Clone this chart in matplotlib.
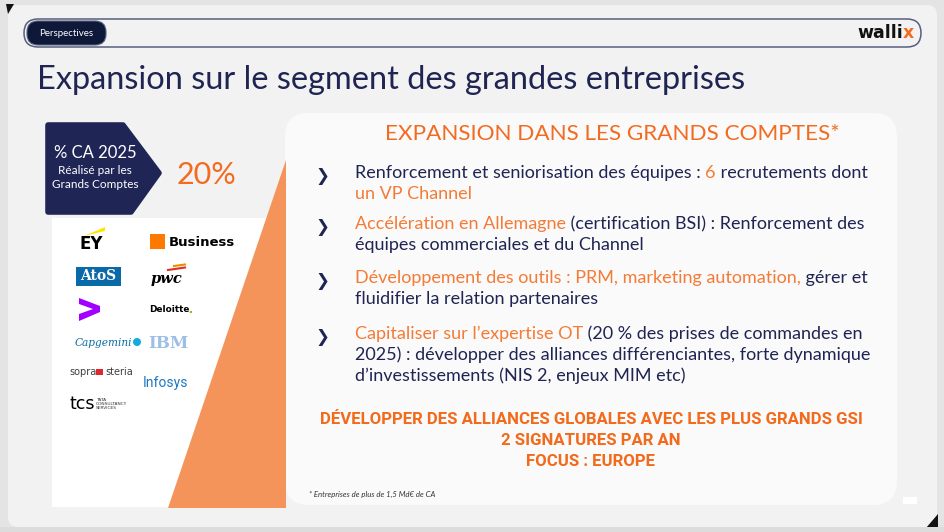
import matplotlib
matplotlib.use("Agg")
import matplotlib.pyplot as plt
from matplotlib.patches import FancyBboxPatch, Polygon, Rectangle, Circle

# slide content
SECTION_TAG = "Perspectives"
BRAND = [("walli", "#111111"), ("x", "#f26b21")]
TITLE = "Expansion sur le segment des grandes entreprises"
SHARE_LABEL = ["% CA 2025", "Réalisé par les", "Grands Comptes"]
SHARE_VALUE = "20%"
HEADING = "EXPANSION DANS LES GRANDS COMPTES*"
# (text, colour key) pieces per line, per bullet
BULLETS = [
    [[("Renforcement et seniorisation des équipes : ", "n"), ("6", "o"), (" recrutements dont", "n")],
     [("un VP Channel", "o")]],
    [[("Accélération en Allemagne", "o"), (" (certification BSI) : Renforcement des", "n")],
     [("équipes commerciales et du Channel", "n")]],
    [[("Développement des outils : PRM, marketing automation,", "o"), (" gérer et", "n")],
     [("fluidifier la relation partenaires", "n")]],
    [[("Capitaliser sur l’expertise OT", "o"), (" (20 % des prises de commandes en", "n")],
     [("2025) : développer des alliances différenciantes, forte dynamique", "n")],
     [("d’investissements (NIS 2, enjeux MIM etc)", "n")]],
]
BULLET_Y = [173, 224, 278, 334]
CALLOUT = ["DÉVELOPPER DES ALLIANCES GLOBALES AVEC LES PLUS GRANDS GSI",
           "2 SIGNATURES PAR AN",
           "FOCUS : EUROPE"]
FOOTNOTE = "* Entreprises de plus de 1,5 Md€ de CA"

NAVY = "#1f2452"
ORANGE = "#f26b21"
COLORS = {"n": NAVY, "o": "#f47b36"}
FONT = "Lato"

W, H = 945, 532
fig = plt.figure(figsize=(W / 100, H / 100), dpi=100)
fig.patch.set_facecolor("#e4e4e4")
ax = fig.add_axes([0, 0, 1, 1])
ax.set_xlim(0, W)
ax.set_ylim(H, 0)
ax.axis("off")
renderer = fig.canvas.get_renderer()


def text_w(txt, size, **kw):
    t = ax.text(0, 0, txt, fontsize=size, **kw)
    w = t.get_window_extent(renderer).width
    t.remove()
    return w


def fit_size(txt, target, **kw):
    return 10 * target / text_w(txt, 10, **kw)


def rich_line(x, y, parts, size, **kw):
    bar = text_w("|", size, **kw)
    done = ""
    for txt, col in parts:
        xx = x + text_w(done + "|", size, **kw) - bar if done else x
        ax.text(xx, y, txt, color=col, fontsize=size, va="center", ha="left", **kw)
        done += txt


# slide background + screenshot corners
ax.add_patch(FancyBboxPatch((8, 5), 929, 522, boxstyle="round,pad=0,rounding_size=10",
                            fc="#f2f2f2", ec="none"))
ax.add_patch(Polygon([(6, 4), (14, 4), (8, 14)], fc="#111111", ec="none"))
ax.add_patch(Polygon([(938, 514), (938, 528), (926, 528)], fc="#111111", ec="none"))
ax.add_patch(Rectangle((0, 527), W, 5, fc="#dcdcdc", ec="none"))

# header bar
ax.add_patch(FancyBboxPatch((24, 19), 897, 28, boxstyle="round,pad=0,rounding_size=14",
                            fc="none", ec="#56607e", lw=1.1))
ax.add_patch(FancyBboxPatch((27, 21), 79, 24, boxstyle="round,pad=0,rounding_size=11",
                            fc="#0e1838", ec="#56607e", lw=0.8))
ax.text(66, 33.5, SECTION_TAG, color="white", fontsize=7, family=FONT, ha="center", va="center")
rich_line(857, 33, BRAND, 12.5, family="DejaVu Sans", weight="bold")

# title
ts = fit_size(TITLE, 708, family=FONT)
ax.text(37, 80, TITLE, color=NAVY, fontsize=ts, family=FONT, ha="left", va="center")

# right panel
ax.add_patch(FancyBboxPatch((285, 113), 612, 392, boxstyle="round,pad=0,rounding_size=24",
                            fc="#fafafa", ec="none"))

# left: logos panel + orange wedge
ax.add_patch(Rectangle((52, 218), 233, 289, fc="white", ec="none"))
ax.add_patch(Polygon([(286, 160), (286, 508), (168, 508)], fc="#f4935a", ec="none"))

# navy arrow box
ax.add_patch(Polygon([(48, 125), (123, 125), (159, 173), (131, 212), (48, 212)],
                     fc="#1f2656", ec="#1f2656", lw=4, joinstyle="round"))
ax.text(95, 153, SHARE_LABEL[0], color="white", fontsize=12, family=FONT, ha="center", va="center")
ax.text(95, 171, SHARE_LABEL[1], color="white", fontsize=8.5, family=FONT, ha="center", va="center")
ax.text(95, 185, SHARE_LABEL[2], color="white", fontsize=8.5, family=FONT, ha="center", va="center")
ax.text(207, 175, SHARE_VALUE, color=ORANGE, fontsize=22, family=FONT, ha="center", va="center")

# client logos
ax.add_patch(Polygon([(84, 236), (105, 227), (105, 231)], fc="#ffe600", ec="none"))
ax.text(91, 244, "EY", color="black", fontsize=12, weight="bold", family="DejaVu Sans",
        ha="center", va="center")
ax.add_patch(Rectangle((150, 234), 15, 15, fc="#ff7900", ec="none"))
ax.text(169, 242, "Business", color="black", fontsize=9.5, weight="bold", family="DejaVu Sans",
        ha="left", va="center")
ax.add_patch(Rectangle((76, 267), 45, 19, fc="#0a6aa8", ec="none"))
ax.text(98.5, 276.5, "AtoS", color="white", fontsize=10, weight="bold", family="DejaVu Serif",
        ha="center", va="center")
ax.plot([168, 185], [270, 267.5], color="#e0301e", lw=1.5)
ax.plot([174, 185], [266, 264.5], color="#eb8c00", lw=1.5)
ax.text(167, 279, "pwc", color="black", fontsize=10.5, weight="bold", style="italic",
        family="DejaVu Serif", ha="center", va="center")
ax.add_patch(Polygon([(79, 298), (100, 306), (100, 312), (79, 321), (79, 314), (93, 309), (79, 304)],
                     fc="#a100ff", ec="none"))
dw = text_w("Deloitte", 6.4, weight="bold", family="DejaVu Sans")
ax.text(149, 310, "Deloitte", color="black", fontsize=6.4, weight="bold", family="DejaVu Sans",
        ha="left", va="center")
ax.add_patch(Circle((149 + dw + 1.5, 312), 1.2, fc="#86bc25", ec="none"))
cw = text_w("Capgemini", 7.6, style="italic", family="DejaVu Serif")
ax.text(75, 343, "Capgemini", color="#0b6aa3", fontsize=7.6, style="italic", family="DejaVu Serif",
        ha="left", va="center")
ax.add_patch(Circle((75 + cw + 4.5, 342), 4, fc="#12abdb", ec="none"))
ax.text(168, 343, "IBM", color="#9dbfe6", fontsize=12, weight="bold", family="DejaVu Serif",
        ha="center", va="center")
ax.text(69, 372, "sopra", color="#3d3d3d", fontsize=7, family="DejaVu Sans", ha="left", va="center")
ax.add_patch(Rectangle((96, 369), 7, 6, fc="#e3262d", ec="none"))
ax.text(105, 372, "steria", color="#3d3d3d", fontsize=7, family="DejaVu Sans", ha="left", va="center")
ax.text(166, 383, "Infosys", color="#1f78c1", fontsize=10, family="Roboto", ha="center", va="center")
ax.text(70, 404, "tcs", color="black", fontsize=12.5, family="DejaVu Sans", ha="left", va="center")
ax.text(96, 404, "TATA\nCONSULTANCY\nSERVICES", color="#333333", fontsize=3.2, family="DejaVu Sans",
        ha="left", va="center", linespacing=1.1)

# heading
hs = fit_size(HEADING, 452, family=FONT)
ax.text(612, 134, HEADING, color=ORANGE, fontsize=hs, family=FONT, ha="center", va="center")

# bullets
bs = fit_size("".join(p[0] for p in BULLETS[0][0]), 514, family=FONT)
for y0, lines in zip(BULLET_Y, BULLETS):
    ax.text(322, y0 + 3, "❯", color=NAVY, fontsize=12, weight="bold", family="DejaVu Sans",
            ha="center", va="center")
    for i, parts in enumerate(lines):
        rich_line(355, y0 + i * 21, [(t, COLORS[c]) for t, c in parts], bs, family=FONT)

# callout
cs = fit_size(CALLOUT[0], 542, family="Roboto", weight="bold")
for i, line in enumerate(CALLOUT):
    ax.text(591, 420 + i * 20.5, line, color="#f26a1b", fontsize=cs, family="Roboto",
            weight="bold", ha="center", va="center")

ax.text(309, 494, FOOTNOTE, color="#333333", fontsize=5.6, style="italic", family=FONT,
        ha="left", va="center")
ax.add_patch(Rectangle((903, 497), 14, 7, fc="white", ec="none"))

fig.savefig("out.png", dpi=100, facecolor=fig.get_facecolor())
